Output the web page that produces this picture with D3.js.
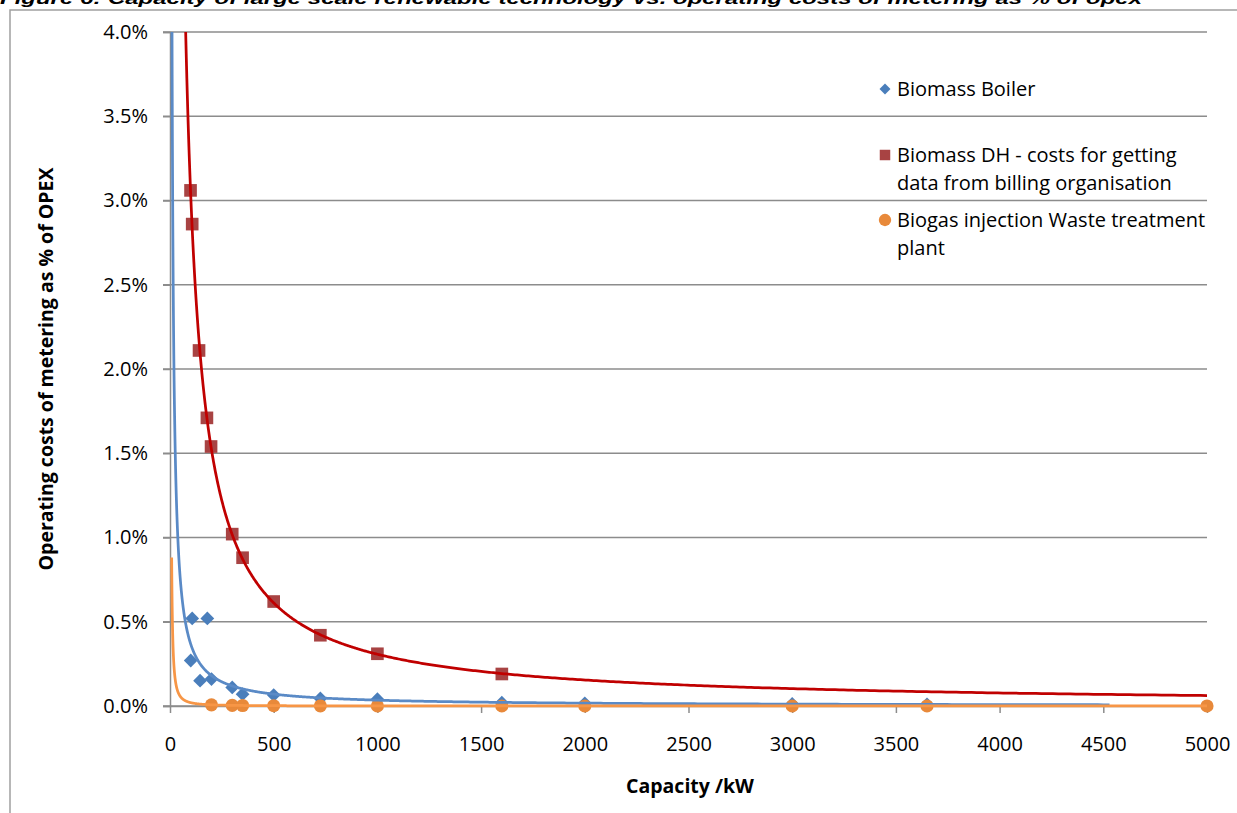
<!DOCTYPE html>
<meta charset="utf-8">
<style>
  body { margin: 0; background: #fff; }
  svg { display: block; }
  text { font-family: "Open Sans", sans-serif; fill: #000; }
</style>
<script src="https://d3js.org/d3.v7.min.js"></script>
<body>
<div id="chart"></div>
<script>

// capacity (kW) and metering cost (% of OPEX)
var boilerKW  = [100, 107, 145, 180, 200, 300, 350, 500, 725, 1000, 1600, 2000, 3000, 3650];
var boilerPct = [0.27, 0.52, 0.15, 0.52, 0.16, 0.11, 0.07, 0.065, 0.045, 0.04, 0.02, 0.016, 0.012, 0.01];

var dhKW  = [99, 107, 140, 178, 198, 300, 350, 500, 725, 1000, 1600];
var dhPct = [3.06, 2.86, 2.11, 1.71, 1.54, 1.02, 0.88, 0.62, 0.42, 0.31, 0.19];

var biogasKW  = [200, 300, 350, 500, 725, 1000, 1600, 2000, 3000, 3650, 5000];
var biogasPct = [0.007, 0.004, 0.003, 0.0018, 0.001, 0.0006, 0.0003, 0.0002, 0.00012, 0.00009, 0.00006];

// x range each power trendline is drawn over
var trendStart = [8, 8, 8];
var trendEnd   = [4530, 5000, 5000];

var xTicks = d3.range(0, 5001, 500);
var yTicks = [0, 0.5, 1, 1.5, 2, 2.5, 3, 3.5, 4];

var width = 1237,
    height = 813;

var svg = d3.select("#chart")
      .append("svg")
        .attr("width", width)
        .attr("height", height);

var x = d3.scaleLinear().domain([0, 5000]).range([170, 1207]);
var y = d3.scaleLinear().domain([0, 4]).range([706, 32]);

// frame and the caption that is cut off at the very top
svg.append("path")
    .attr("d", "M10," + height + "V10H" + width)
    .attr("fill", "none")
    .attr("stroke", "#a0a0a0")
    .attr("stroke-width", 1.5);

svg.append("text")
    .attr("x", 0)
    .attr("y", 4)
    .attr("textLength", 1142)
    .attr("lengthAdjust", "spacingAndGlyphs")
    .style("font-family", "'Liberation Sans', Arial, sans-serif")
    .style("font-size", "17px")
    .style("font-weight", "bold")
    .style("font-style", "italic")
    .text("Figure 6: Capacity of large scale renewable technology vs. operating costs of metering as % of opex");

// gridlines
svg.append("g")
  .selectAll("line")
  .data(yTicks)
  .enter().append("line")
    .attr("x1", x(0) - 7)
    .attr("x2", x(5000))
    .attr("y1", d => y(d))
    .attr("y2", d => y(d))
    .attr("stroke", "#8c8c8c")
    .attr("stroke-width", 1.5);

var yAxis = svg.append("g")
    .attr("transform", "translate(" + x(0) + ",0)")
    .call(d3.axisLeft(y).tickValues(yTicks)
      .tickFormat(d => d.toFixed(1) + "%")
      .tickSize(7).tickPadding(15));
yAxis.select(".domain").attr("stroke", "#8c8c8c").attr("stroke-width", 1.5);
yAxis.selectAll(".tick line").attr("stroke", "#8c8c8c").attr("stroke-width", 1.5);
yAxis.selectAll("text").style("font-size", "20px").attr("fill", "#000");

var xAxis = svg.append("g")
    .attr("transform", "translate(0," + y(0) + ")")
    .call(d3.axisBottom(x).tickValues(xTicks)
      .tickFormat(d3.format("d"))
      .tickSize(7).tickSizeOuter(0).tickPadding(24));
xAxis.select(".domain").attr("stroke", "#8c8c8c").attr("stroke-width", 1.5);
xAxis.selectAll(".tick line").attr("stroke", "#8c8c8c").attr("stroke-width", 1.5);
xAxis.selectAll("text").style("font-size", "20px").attr("fill", "#000");

svg.append("text")
    .attr("x", 690)
    .attr("y", 793)
    .attr("text-anchor", "middle")
    .style("font-size", "19.5px")
    .style("font-weight", "bold")
    .text("Capacity /kW");

svg.append("text")
    .attr("transform", "translate(53,369) rotate(-90)")
    .attr("text-anchor", "middle")
    .style("font-size", "19.5px")
    .style("font-weight", "bold")
    .text("Operating costs of metering as % of OPEX");

// series
var colors = ["#4a7ebb", "#a84343", "#e8893a"];
var lineColors = ["#5a8ac6", "#c00000", "#f79646"];
var symbols = [d3.symbol().type(d3.symbolSquare).size(95),
               d3.symbol().type(d3.symbolSquare).size(160),
               d3.symbol().type(d3.symbolCircle).size(135)];
var rotations = [45, 0, 0];

var series = [
  { xs: boilerKW, ys: boilerPct },
  { xs: dhKW, ys: dhPct },
  { xs: biogasKW, ys: biogasPct }
];

// least squares power fit in log-log space (same as a spreadsheet power trendline)
function powerFit(xs, ys) {
  var lx = xs.map(Math.log), ly = ys.map(Math.log);
  var mx = d3.mean(lx), my = d3.mean(ly);
  var b = d3.sum(lx, (v, i) => (v - mx) * (ly[i] - my)) / d3.sum(lx, v => (v - mx) * (v - mx));
  return { a: Math.exp(my - b * mx), b: b };
}

svg.append("clipPath").attr("id", "plot")
  .append("rect")
    .attr("x", x(0)).attr("y", y(4))
    .attr("width", x(5000) - x(0)).attr("height", y(0) - y(4) + 2);

series.forEach(function(s, i) {
  svg.append("g")
    .selectAll("path")
    .data(d3.zip(s.xs, s.ys))
    .enter().append("path")
      .attr("d", symbols[i])
      .attr("transform", d => "translate(" + x(d[0]) + "," + y(d[1]) + ") rotate(" + rotations[i] + ")")
      .attr("fill", colors[i]);
});

var line = d3.line().x(d => x(d[0])).y(d => y(d[1]));

series.forEach(function(s, i) {
  var fit = powerFit(s.xs, s.ys);
  var pts = d3.range(0, 1.0001, 0.001).map(function(t) {
    var kw = trendStart[i] * Math.pow(trendEnd[i] / trendStart[i], t);
    return [kw, Math.min(fit.a * Math.pow(kw, fit.b), 6)];
  });
  svg.append("path")
      .datum(pts)
      .attr("clip-path", "url(#plot)")
      .attr("d", line)
      .attr("fill", "none")
      .attr("stroke", lineColors[i])
      .attr("stroke-width", 2.75);
});

// legend
var legendRows = [
  { lines: ["Biomass Boiler"], y: 96 },
  { lines: ["Biomass DH - costs for getting", "data from billing organisation"], y: 162 },
  { lines: ["Biogas injection Waste treatment", "plant"], y: 227 }
];

var legend = svg.append("g");
legendRows.forEach(function(r, i) {
  legend.append("path")
      .attr("d", d3.symbol().type(i == 2 ? d3.symbolCircle : d3.symbolSquare).size(i == 0 ? 60 : (i == 1 ? 110 : 120)))
      .attr("transform", "translate(885," + (r.y - 7) + ") rotate(" + rotations[i] + ")")
      .attr("fill", colors[i]);
  legend.append("text")
      .attr("x", 897)
      .attr("y", r.y)
      .style("font-size", "20px")
    .selectAll("tspan")
    .data(r.lines)
    .enter().append("tspan")
      .attr("x", 897)
      .attr("dy", (d, j) => j == 0 ? 0 : 28)
      .text(d => d);
});

</script>
</body>
